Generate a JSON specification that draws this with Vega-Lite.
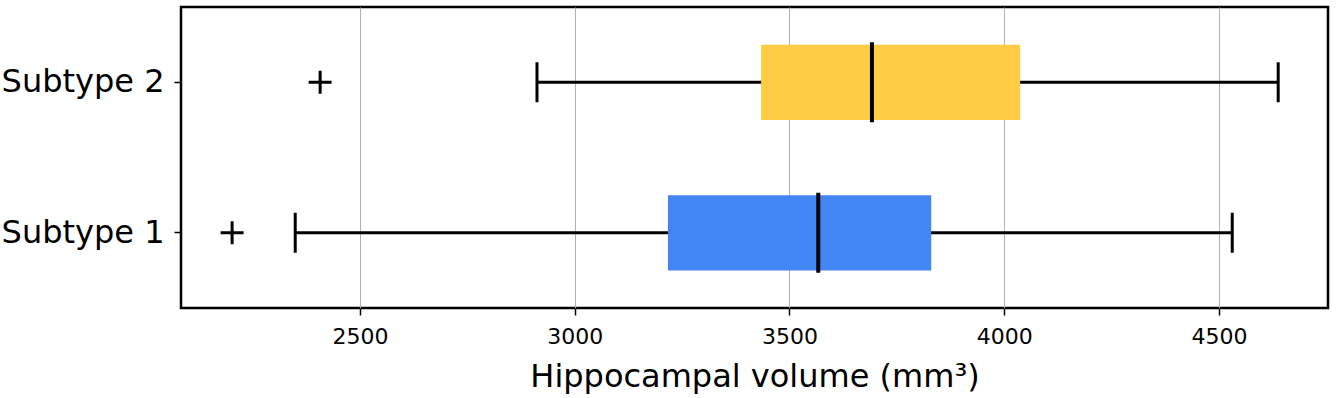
{
  "$schema": "https://vega.github.io/schema/vega-lite/v6.json",
  "autosize": "none",
  "width": 1147,
  "height": 301,
  "padding": {"left": 181, "top": 7, "right": 8, "bottom": 90},
  "background": "white",
  "config": {
    "font": "DejaVu Sans",
    "view": {"stroke": "black", "strokeWidth": 2.5},
    "axis": {"domain": false, "tickColor": "black", "tickWidth": 1.5, "tickSize": 7, "labelColor": "black", "titleColor": "black", "labelFont": "DejaVu Sans", "titleFont": "DejaVu Sans"}
  },
  "data": {
    "values": [
      {"group": "Subtype 2", "lo": 2912, "q1": 3434, "med": 3692, "q3": 4037, "hi": 4638, "outlier": 2407, "color": "Subtype 2"},
      {"group": "Subtype 1", "lo": 2349, "q1": 3217, "med": 3567, "q3": 3830, "hi": 4531, "outlier": 2202, "color": "Subtype 1"}
    ]
  },
  "encoding": {
    "y": {
      "field": "group", "type": "nominal",
      "scale": {"domain": ["Subtype 2", "Subtype 1"], "paddingInner": 0.5, "paddingOuter": 0.25},
      "axis": {"title": null, "labelFontSize": 32, "labelPadding": 10, "grid": false}
    }
  },
  "layer": [
    {
      "mark": {"type": "rule", "color": "black", "strokeWidth": 3},
      "encoding": {
        "x": {
          "field": "lo", "type": "quantitative",
          "scale": {"domain": [2083, 4754], "nice": false, "zero": false},
          "axis": {"title": "Hippocampal volume (mm³)", "values": [2500, 3000, 3500, 4000, 4500], "labelFontSize": 22, "titleFontSize": 32, "titleFontWeight": "normal", "labelPadding": 11, "titlePadding": 14, "grid": true, "gridColor": "#b0b0b0", "gridWidth": 1, "format": "d"}
        },
        "x2": {"field": "hi"}
      }
    },
    {
      "mark": {"type": "bar"},
      "encoding": {
        "x": {"field": "q1", "type": "quantitative"},
        "x2": {"field": "q3"},
        "color": {"field": "color", "type": "nominal", "scale": {"domain": ["Subtype 2", "Subtype 1"], "range": ["#FFCC44", "#4285F4"]}, "legend": null}
      }
    },
    {
      "mark": {"type": "tick", "color": "black", "thickness": 3, "size": 40, "opacity": 1},
      "encoding": {"x": {"field": "lo", "type": "quantitative"}}
    },
    {
      "mark": {"type": "tick", "color": "black", "thickness": 3, "size": 40, "opacity": 1},
      "encoding": {"x": {"field": "hi", "type": "quantitative"}}
    },
    {
      "mark": {"type": "tick", "color": "black", "thickness": 4, "size": 80, "opacity": 1},
      "encoding": {"x": {"field": "med", "type": "quantitative"}}
    },
    {
      "mark": {"type": "point", "shape": "M-1,0L1,0M0,-1L0,1", "stroke": "black", "strokeWidth": 3, "size": 529, "filled": false, "opacity": 1},
      "encoding": {"x": {"field": "outlier", "type": "quantitative"}}
    }
  ]
}
